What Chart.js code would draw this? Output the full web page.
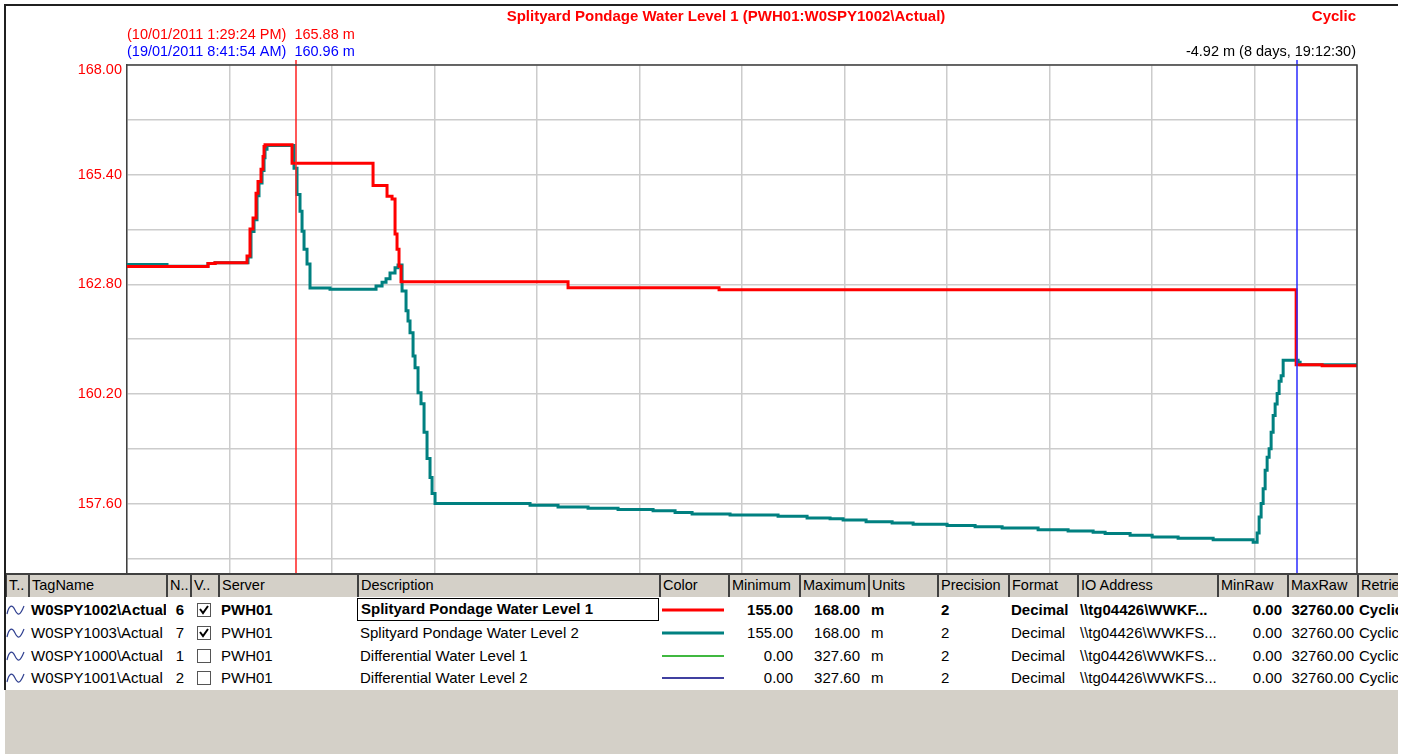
<!DOCTYPE html>
<html>
<head>
<meta charset="utf-8">
<script src="https://cdn.jsdelivr.net/npm/chart.js@4.4.1/dist/chart.umd.min.js"></script>
<style>
  body { margin:0; width:1413px; height:754px; background:#fff; position:relative; overflow:hidden; font-family:"Liberation Sans", Arial, sans-serif; }
  #frame { position:absolute; left:4px; top:4px; width:1394px; height:686px; border-top:2px solid #202020; border-left:2px solid #202020; box-sizing:border-box; }
  #plot { position:absolute; left:0; top:0; width:1413px; height:574px; }
  #grid { position:absolute; left:5px; top:573px; width:1393px; height:181px; overflow:hidden; background:#fff; }
  .hd { position:absolute; top:0; height:24px; background:#d4d0c8; border-left:2px solid #404040; border-top:2px solid #404040; box-sizing:border-box; font-size:14.5px; line-height:21px; padding-left:2px; white-space:nowrap; overflow:hidden; }
  .cell { position:absolute; height:23px; font-size:15px; line-height:23px; white-space:nowrap; overflow:hidden; box-sizing:border-box; }
  #foot { position:absolute; left:0; top:117px; width:1393px; height:70px; background:#d4d0c8; }
</style>
</head>
<body>
<div id="plot"><canvas id="trend"></canvas></div>
<div id="grid"><div id="foot"></div></div>
<div id="frame"></div>
<script>
// hours since start of the trend window
const windowHours = 259.5;
const xDivisions = 12;
const yTicks = [168, 166.7, 165.4, 164.1, 162.8, 161.5, 160.2, 158.9, 157.6, 156.3];
const yMin = 155.93, yMax = 168;

// W0SPY1002 - Splityard Pondage Water Level 1 (value changes at each hour)
const redHours = [0, 17.09, 18.57, 25.32, 25.95, 26.59, 27.22, 27.64, 28.27, 28.70, 28.91, 29.12, 34.82,
  51.91, 54.86, 55.92, 56.55, 56.97, 57.39, 57.81, 93.05, 124.91, 246.66, 252.15, 259.53];
const redLevel = [163.22, 163.29, 163.31, 163.47, 164.11, 164.37, 164.96, 165.24, 165.53, 165.83, 166.07, 166.11, 165.67,
  165.14, 164.89, 164.82, 163.99, 163.63, 163.23, 162.86, 162.72, 162.67, 160.89, 160.87, 160.87];

// W0SPY1003 - Splityard Pondage Water Level 2
const tealHours = [0, 8.44, 17.09, 18.57, 25.53, 26.16, 26.80, 27.43, 27.85, 28.49, 28.91, 29.12, 29.54,
  35.24, 35.87, 36.50, 36.93, 37.35, 37.98, 38.61, 42.83, 52.54, 53.81, 54.65, 55.49, 56.55, 57.18,
  58.03, 58.87, 59.29, 59.71, 60.35, 60.77, 61.40, 62.03, 62.67, 63.30, 63.93, 64.36, 64.99,
  85.03, 90.94, 97.27, 103.60, 110.99, 115.63, 119.22, 127.23, 137.36, 143.48, 148.33, 151.08,
  155.93, 161.42, 165.85, 173.02, 178.93, 184.63, 192.22, 198.55, 203.83, 206.36, 211.63, 216.28,
  221.76, 229.15, 237.59, 238.43, 238.85, 239.27, 239.70, 240.12, 240.54, 240.96, 241.38, 241.81,
  242.23, 242.65, 243.07, 243.49, 243.92, 247.08, 247.50, 259.53];
const tealLevel = [163.27, 163.23, 163.29, 163.31, 163.45, 164.05, 164.33, 164.90, 165.20, 165.50, 165.80, 166.00, 166.09,
  165.55, 164.93, 164.53, 164.06, 163.63, 163.28, 162.71, 162.68, 162.76, 162.85, 162.93, 163.07, 163.19, 163.26,
  162.64, 162.17, 161.93, 161.65, 161.10, 160.82, 160.23, 159.97, 159.29, 158.67, 158.22, 157.84, 157.60,
  157.56, 157.52, 157.49, 157.46, 157.43, 157.39, 157.35, 157.33, 157.30, 157.26, 157.24, 157.21,
  157.17, 157.14, 157.11, 157.08, 157.05, 157.02, 156.98, 156.95, 156.92, 156.89, 156.85, 156.81,
  156.78, 156.74, 156.68, 156.90, 157.28, 157.60, 157.95, 158.39, 158.70, 158.90, 159.29, 159.69,
  159.96, 160.21, 160.50, 160.63, 161.00, 160.95, 160.89, 160.86];

const cursorHours = [35.66, 246.87];
const cursorColors = ['#ff2020', '#2a2aff'];

function pts(hs, vs) { return hs.map((h, i) => ({ x: h, y: vs[i] })); }

const overlay = {
  id: 'overlay',
  afterDraw(chart) {
    const { ctx, chartArea: a, scales: { x } } = chart;
    ctx.save();
    cursorHours.forEach((h, i) => {
      const px = Math.round(x.getPixelForValue(h));
      ctx.strokeStyle = cursorColors[i];
      ctx.lineWidth = 1.5;
      ctx.beginPath(); ctx.moveTo(px, a.top - 5); ctx.lineTo(px, a.bottom); ctx.stroke();
    });
    ctx.strokeStyle = '#404040';
    ctx.lineWidth = 1.5;
    ctx.beginPath();
    ctx.moveTo(a.left, a.top); ctx.lineTo(a.right, a.top); ctx.lineTo(a.right, a.bottom);
    ctx.stroke();

    ctx.textBaseline = 'middle';
    ctx.font = 'bold 15px "Liberation Sans", Arial';
    ctx.fillStyle = '#ff0000';
    ctx.textAlign = 'center';
    ctx.fillText('Splityard Pondage Water Level 1 (PWH01:W0SPY1002\\Actual)', 726, 17);
    ctx.textAlign = 'right';
    ctx.fillText('Cyclic', 1356, 17);

    ctx.font = '14.5px "Liberation Sans", Arial';
    // top scale label sits just inside the plot, like the original trend
    ctx.fillText(yMax.toFixed(2), a.left - 5, a.top + 5);
    ctx.textAlign = 'left';
    ctx.fillText('(10/01/2011 1:29:24 PM)  165.88 m', 127, 34.5);
    ctx.fillStyle = '#0000ff';
    ctx.fillText('(19/01/2011 8:41:54 AM)  160.96 m', 127, 52);
    ctx.fillStyle = '#000000';
    ctx.textAlign = 'right';
    ctx.fillText('-4.92 m (8 days, 19:12:30)', 1356, 52);
    ctx.restore();
  }
};

function noPad(s) { s.paddingTop = 0; s.paddingBottom = 0; s.paddingLeft = 0; s.paddingRight = 0; }

new Chart(document.getElementById('trend'), {
  type: 'line',
  data: {
    datasets: [
      { label: 'W0SPY1002', data: pts(redHours, redLevel), borderColor: '#ff0000', borderWidth: 3, stepped: true, pointRadius: 0 },
      { label: 'W0SPY1003', data: pts(tealHours, tealLevel), borderColor: '#008080', borderWidth: 3, stepped: true, pointRadius: 0 }
    ]
  },
  options: {
    responsive: true,
    maintainAspectRatio: false,
    animation: false,
    layout: { padding: { left: 0, top: 65, right: 56, bottom: 0 } },
    plugins: { legend: { display: false }, tooltip: { enabled: false } },
    scales: {
      x: {
        type: 'linear', min: 0, max: windowHours,
        afterBuildTicks: s => { s.ticks = Array.from({ length: xDivisions + 1 }, (_, i) => ({ value: i * windowHours / xDivisions })); },
        afterFit: s => { s.height = 0; noPad(s); },
        ticks: { display: false },
        grid: { color: '#cccccc', lineWidth: 1.5, drawTicks: false },
        border: { display: false }
      },
      y: {
        min: yMin, max: yMax,
        afterBuildTicks: s => { s.ticks = yTicks.map(v => ({ value: v })); },
        afterFit: s => { s.width = 127; noPad(s); },
        ticks: {
          color: '#ff0000', padding: 5,
          font: { family: '"Liberation Sans", Arial', size: 14.5 },
          callback: (v, i) => (i % 2 === 0 && i > 0 ? v.toFixed(2) : '')
        },
        grid: { color: '#cccccc', lineWidth: 1.5, drawTicks: false },
        border: { color: '#404040', width: 1.5 }
      }
    }
  },
  plugins: [overlay]
});

// tag grid below the trend
const cols = [
  ['T..', 5, 28], ['TagName', 28, 166], ['N..', 166, 190], ['V..', 190, 218], ['Server', 218, 357],
  ['Description', 357, 659], ['Color', 659, 728], ['Minimum', 728, 799], ['Maximum', 799, 868],
  ['Units', 868, 937], ['Precision', 937, 1008], ['Format', 1008, 1077], ['IO Address', 1077, 1217],
  ['MinRaw', 1217, 1287], ['MaxRaw', 1287, 1357], ['Retrieval', 1357, 1420]
];
const tagNames = ['W0SPY1002\\Actual', 'W0SPY1003\\Actual', 'W0SPY1000\\Actual', 'W0SPY1001\\Actual'];
const tagNums = ['6', '7', '1', '2'];
const tagVisible = [true, true, false, false];
const tagDesc = ['Splityard Pondage Water Level 1', 'Splityard Pondage Water Level 2', 'Differential Water Level 1', 'Differential Water Level 2'];
const tagColors = ['#ff0000', '#008080', '#00a000', '#000080'];
const tagWidths = [3, 3, 1.5, 1.5];
const tagMin = ['155.00', '155.00', '0.00', '0.00'];
const tagMax = ['168.00', '168.00', '327.60', '327.60'];
const tagIO = ['\\\\tg04426\\WWKF...', '\\\\tg04426\\WWKFS...', '\\\\tg04426\\WWKFS...', '\\\\tg04426\\WWKFS...'];

const grid = document.getElementById('grid');
let html = '';
cols.forEach(([n, l, r]) => {
  html += `<div class="hd" style="left:${l - 5}px;width:${r - l}px">${n}</div>`;
});
function cell(l, r, txt, y, extra) {
  return `<div class="cell" style="left:${l - 5}px;width:${r - l}px;top:${y}px;${extra || ''}">${txt}</div>`;
}
const wave = '<svg width="20" height="14" style="position:absolute;left:1px;top:5px"><path d="M1,11 C3,2 6,1 9,7 S14,13 18,3" fill="none" stroke="#304090" stroke-width="1.2"/></svg>';
tagNames.forEach((t, i) => {
  const y = 25 + i * 23 - (i === 3 ? 1 : 0);
  const b = i === 0 ? 'font-weight:bold;' : '';
  const chk = `<svg width="14" height="14" style="position:absolute;left:7px;top:5px"><rect x="0.5" y="0.5" width="13" height="13" fill="#fff" stroke="#555"/>` +
    (tagVisible[i] ? '<path d="M3,6 L6,10 L11,3" fill="none" stroke="#000" stroke-width="2"/>' : '') + '</svg>';
  const line = `<svg width="64" height="23" style="position:absolute;left:3px;top:0"><line x1="0" y1="12" x2="62" y2="12" stroke="${tagColors[i]}" stroke-width="${tagWidths[i]}"/></svg>`;
  html += cell(5, 28, wave, y);
  html += cell(28, 166, tagNames[i], y, b + 'padding-left:3px;');
  html += cell(166, 190, tagNums[i], y, b + 'text-align:right;padding-right:6px;');
  html += cell(190, 218, chk, y);
  html += cell(218, 357, 'PWH01', y, b + 'padding-left:3px;');
  html += cell(357, 659, tagDesc[i], y, b + 'padding-left:3px;' + (i === 0 ? 'border:1.5px solid #000;line-height:20px;' : ''));
  html += cell(659, 728, line, y);
  html += cell(728, 799, tagMin[i], y, b + 'text-align:right;padding-right:6px;');
  html += cell(799, 868, tagMax[i], y, b + 'text-align:right;padding-right:8px;');
  html += cell(868, 937, 'm', y, b + 'padding-left:3px;');
  html += cell(937, 1008, '2', y, b + 'padding-left:4px;');
  html += cell(1008, 1077, 'Decimal', y, b + 'padding-left:3px;');
  html += cell(1077, 1217, tagIO[i], y, b + 'padding-left:3px;');
  html += cell(1217, 1287, '0.00', y, b + 'text-align:right;padding-right:5px;');
  html += cell(1287, 1357, '32760.00', y, b + 'text-align:right;padding-right:3px;');
  html += cell(1357, 1420, 'Cyclic', y, b + 'padding-left:2px;');
});
grid.insertAdjacentHTML('beforeend', html);
</script>
</body>
</html>
